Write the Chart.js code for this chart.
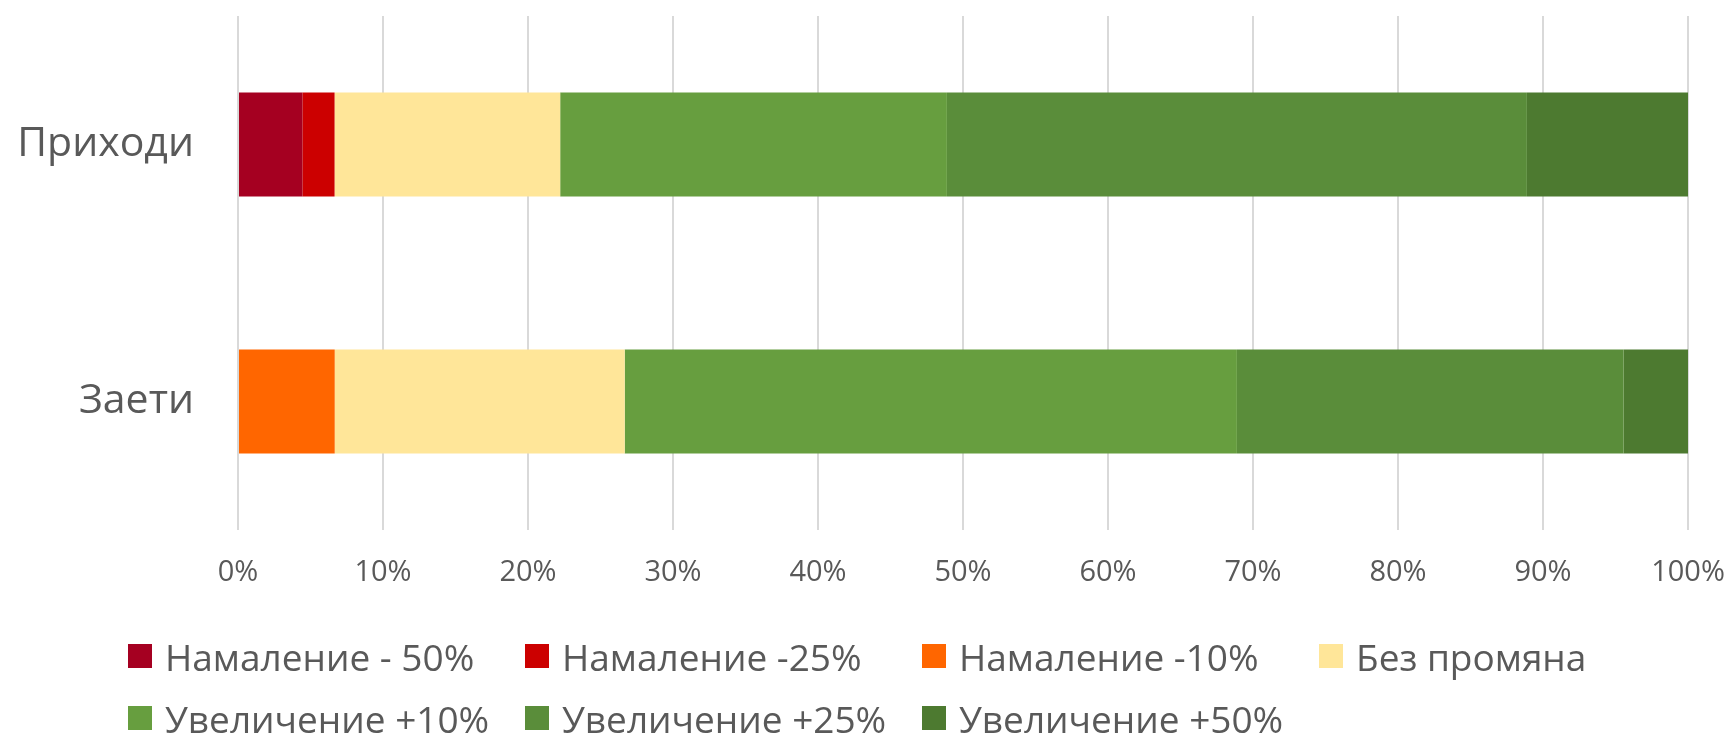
<!DOCTYPE html>
<html>
<head>
<meta charset="utf-8">
<script src="https://cdn.jsdelivr.net/npm/chart.js@4"></script>
<style>
    body { margin: 0; background: #fff; font-family: "Open Sans", sans-serif; }
    #wrap { position: relative; width: 1728px; height: 733px; }
    #legend { position: absolute; left: 0; top: 0; width: 1728px; height: 733px; pointer-events: none; }
    .item { position: absolute; display: flex; align-items: center; color: #595959; font-size: 37px; white-space: nowrap; }
    .box { width: 24px; height: 24px; margin-right: 13px; }
</style>
</head>
<body>
<div id="wrap">
    <canvas id="chart" width="1728" height="610"></canvas>
    <div id="legend"></div>
</div>
<script>
'use strict';

// Categories (top to bottom) and share of answers per option, in percent
const categories = ['Приходи', 'Заети'];
const seriesNames = ['Намаление - 50%', 'Намаление -25%', 'Намаление -10%', 'Без промяна',
    'Увеличение +10%', 'Увеличение +25%', 'Увеличение +50%'];
const decrease50 = [4.44, 0];
const decrease25 = [2.22, 0];
const decrease10 = [0, 6.67];
const noChange = [15.56, 20.00];
const increase10 = [26.67, 42.22];
const increase25 = [40.00, 26.67];
const increase50 = [11.11, 4.44];
const tickValues = [0, 10, 20, 30, 40, 50, 60, 70, 80, 90, 100];

const seriesValues = [decrease50, decrease25, decrease10, noChange, increase10, increase25, increase50];
const colors = ['#A50021', '#CC0000', '#FF6600', '#FFE699', '#679E3F', '#5A8D3A', '#4D7A30'];

const datasets = seriesNames.map((name, i) => ({
    label: name,
    data: seriesValues[i],
    backgroundColor: colors[i],
    borderWidth: 0,
    barPercentage: 0.405,
    categoryPercentage: 1
}));

let ctx = document.getElementById('chart').getContext('2d');
let chart = new Chart(ctx, {
    type: 'bar',
    data: { labels: categories, datasets: datasets },
    options: {
        indexAxis: 'y',
        responsive: false,
        animation: false,
        layout: { padding: { top: 16, right: 40, left: 0, bottom: 0 } },
        plugins: {
            legend: { display: false },
            tooltip: { enabled: false }
        },
        scales: {
            x: {
                stacked: true,
                min: 0,
                max: 100,
                afterBuildTicks: (scale) => {
                    scale.ticks = tickValues.map(v => ({ value: v }));
                },
                afterFit: (scale) => {
                    scale.height = 80;
                    scale.paddingLeft = 0;
                    scale.paddingRight = 0;
                },
                border: { display: false },
                grid: { color: '#D9D9D9', lineWidth: 2, drawTicks: false },
                ticks: {
                    padding: 25,
                    color: '#595959',
                    font: { family: 'Open Sans', size: 29 },
                    callback: v => v + '%'
                }
            },
            y: {
                stacked: true,
                afterFit: (scale) => {
                    scale.width = 238;
                    scale.paddingTop = 0;
                    scale.paddingBottom = 0;
                },
                border: { display: false },
                grid: { display: false },
                ticks: {
                    padding: 36,
                    color: '#595959',
                    font: { family: 'Open Sans', size: 41 }
                }
            }
        }
    }
});

// Legend laid out in fixed columns, two rows, like the original
const legendX = [128, 525, 922, 1319];
const legendY = [656, 718];
let legend = document.getElementById('legend');
seriesNames.forEach((name, i) => {
    let item = document.createElement('div');
    item.className = 'item';
    item.style.left = legendX[i % 4] + 'px';
    item.style.top = (legendY[Math.floor(i / 4)] - 25) + 'px';
    item.style.height = '50px';
    let box = document.createElement('div');
    box.className = 'box';
    box.style.background = colors[i];
    let text = document.createElement('span');
    text.textContent = name;
    item.appendChild(box);
    item.appendChild(text);
    legend.appendChild(item);
});
</script>
</body>
</html>
